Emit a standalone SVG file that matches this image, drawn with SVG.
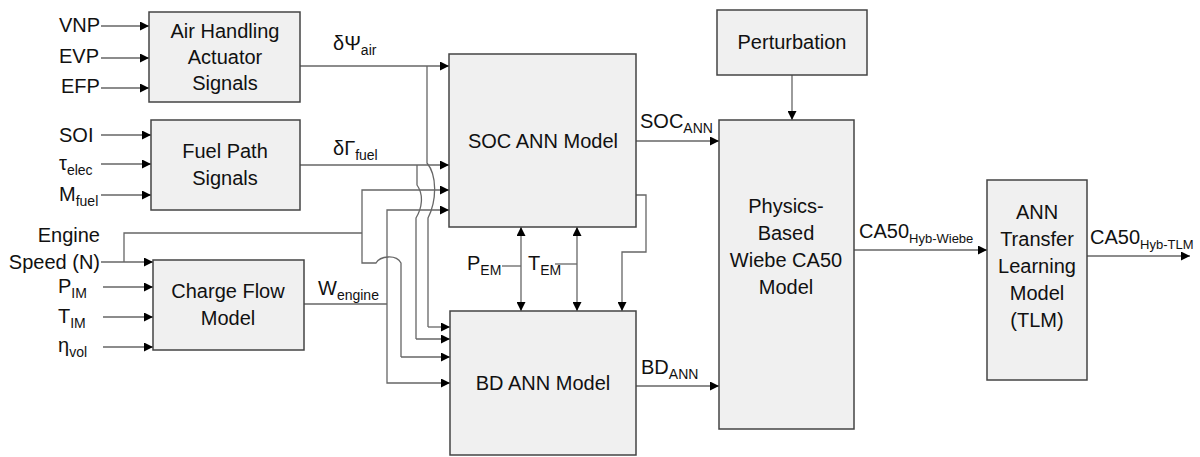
<svg xmlns="http://www.w3.org/2000/svg" width="1200" height="457" viewBox="0 0 1200 457">
<defs>
<marker id="ah" viewBox="0 0 10 10" refX="10" refY="5" markerWidth="9" markerHeight="9" markerUnits="userSpaceOnUse" orient="auto-start-reverse">
<path d="M0,0 L10,5 L0,10 z" fill="#000"/>
</marker>
<style>
.box{fill:#f0f0f0;stroke:#444;stroke-width:1.5}
.t{font-family:"Liberation Sans",Arial,sans-serif;font-size:20px;fill:#111}
.c{text-anchor:middle}
.e{text-anchor:end}
.s{font-size:14px}
.s2{font-size:13px}
.w{fill:none;stroke:#666;stroke-width:1.3}
.a{marker-end:url(#ah)}
.b{marker-start:url(#ah);marker-end:url(#ah)}
</style>
</defs>
<rect width="1200" height="457" fill="#fff"/>

<g id="connectors">
<path class="w a" d="M101,26 H149"/>
<path class="w a" d="M101,58 H149"/>
<path class="w a" d="M101,88 H149"/>
<path class="w a" d="M101,135 H151"/>
<path class="w a" d="M101,164 H151"/>
<path class="w a" d="M101,195 H151"/>
<path class="w a" d="M101,262 H153"/>
<path class="w a" d="M103,287 H153"/>
<path class="w a" d="M103,317 H153"/>
<path class="w a" d="M103,347 H153"/>
<path class="w" d="M124,262 V233 H362"/>
<path class="w a" d="M362,233 V190 H449"/>
<path class="w" d="M362,233 V263 H376 C380,256 396,254 401,263 V357"/>
<path class="w a" d="M401,357 H450"/>
<path class="w a" d="M300,66 H449"/>
<path class="w" d="M427,66 V163 C437,175 437,200 428,218 V327"/>
<path class="w a" d="M428,327 H450"/>
<path class="w a" d="M300,165 H449"/>
<path class="w" d="M417,165 V185 C424,195 422,208 416,218 V339"/>
<path class="w a" d="M416,339 H450"/>
<path class="w" d="M304,304 H387"/>
<path class="w a" d="M387,304 V210 H449"/>
<path class="w a" d="M387,304 V383 H450"/>
<path class="w b" d="M521,227 V311"/>
<path class="w b" d="M577,227 V311"/>
<path class="w" d="M502,266 H521"/>
<path class="w" d="M555,264 H577"/>
<path class="w a" d="M636,195 H646 V252 H622 V311"/>
<path class="w a" d="M636,141 H719"/>
<path class="w a" d="M636,386 H719"/>
<path class="w a" d="M792,75 V120"/>
<path class="w a" d="M854,250 H987"/>
<path class="w a" d="M1087,256 H1190"/>
</g>

<g id="air-handling">
<rect class="box" x="149" y="12" width="151" height="90"/>
<text class="t c" x="225" y="38">Air Handling</text>
<text class="t c" x="225" y="64">Actuator</text>
<text class="t c" x="225" y="90">Signals</text>
</g>
<g id="fuel-path">
<rect class="box" x="151" y="120" width="149" height="90"/>
<text class="t c" x="225" y="158">Fuel Path</text>
<text class="t c" x="225" y="185">Signals</text>
</g>
<g id="charge-flow">
<rect class="box" x="153" y="260" width="151" height="90"/>
<text class="t c" x="228" y="298">Charge Flow</text>
<text class="t c" x="228" y="325">Model</text>
</g>
<g id="soc-ann">
<rect class="box" x="449" y="54" width="187" height="173"/>
<text class="t c" x="543" y="148">SOC ANN Model</text>
</g>
<g id="bd-ann">
<rect class="box" x="450" y="311" width="186" height="144"/>
<text class="t c" x="543" y="390">BD ANN Model</text>
</g>
<g id="perturbation">
<rect class="box" x="717" y="10" width="150" height="65"/>
<text class="t c" x="792" y="49">Perturbation</text>
</g>
<g id="physics">
<rect class="box" x="719" y="120" width="135" height="309"/>
<text class="t c" x="786" y="213">Physics-</text>
<text class="t c" x="786" y="240">Based</text>
<text class="t c" x="786" y="267">Wiebe CA50</text>
<text class="t c" x="786" y="294">Model</text>
</g>
<g id="tlm">
<rect class="box" x="987" y="180" width="100" height="200"/>
<text class="t c" x="1037" y="219">ANN</text>
<text class="t c" x="1037" y="246">Transfer</text>
<text class="t c" x="1037" y="273">Learning</text>
<text class="t c" x="1037" y="300">Model</text>
<text class="t c" x="1037" y="327">(TLM)</text>
</g>

<g id="labels">
<text class="t" x="59" y="32">VNP</text>
<text class="t" x="59" y="63">EVP</text>
<text class="t" x="61" y="93">EFP</text>
<text class="t" x="59" y="142">SOI</text>
<text class="t" x="59" y="170">τ<tspan class="s" dy="5">elec</tspan></text>
<text class="t" x="59" y="201">M<tspan class="s" dy="5">fuel</tspan></text>
<text class="t e" x="100" y="242">Engine</text>
<text class="t e" x="100" y="269">Speed (N)</text>
<text class="t" x="58" y="293">P<tspan class="s" dy="5">IM</tspan></text>
<text class="t" x="58" y="323">T<tspan class="s" dy="5">IM</tspan></text>
<text class="t" x="58" y="352">η<tspan class="s" dy="5">vol</tspan></text>
<text class="t" x="333" y="50">δΨ<tspan class="s" dy="5">air</tspan></text>
<text class="t" x="333" y="155">δΓ<tspan class="s" dy="5">fuel</tspan></text>
<text class="t" x="318" y="295">W<tspan class="s" dy="5">engine</tspan></text>
<text class="t" x="467" y="270">P<tspan class="s" dy="5">EM</tspan></text>
<text class="t" x="528" y="270">T<tspan class="s" dy="5">EM</tspan></text>
<text class="t" x="640" y="128">SOC<tspan class="s" dy="5">ANN</tspan></text>
<text class="t" x="641" y="374">BD<tspan class="s" dy="5">ANN</tspan></text>
<text class="t" x="859" y="238">CA50<tspan class="s2" dy="5">Hyb-Wiebe</tspan></text>
<text class="t" x="1090" y="244">CA50<tspan class="s2" dy="5">Hyb-TLM</tspan></text>
</g>
</svg>
